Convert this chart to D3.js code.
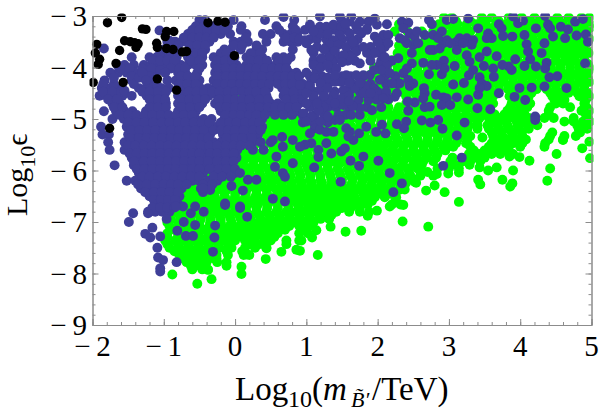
<!DOCTYPE html>
<html><head><meta charset="utf-8">
<script src="https://cdn.jsdelivr.net/npm/d3@7"></script>
<style>html,body{margin:0;background:#fff}svg{display:block}text{font-family:"Liberation Serif",serif;fill:#000}</style>
</head><body><svg id="c" width="600" height="413"></svg>
<script>
const xTicks=[-2,-1,0,1,2,3,4,5];
const yTicks=[-3,-4,-5,-6,-7,-8,-9];
const black=[[-1.79,-3.13],[-1.59,-3.03],[-1.3,-3.25],[-1.25,-3.26],[-.96,-3.3],[-.86,-3.3],[-.98,-3.4],[-.38,-3.13],[-.24,-3.1],[-.14,-3.12],[-1.94,-3.55],[-1.96,-3.72],[-1.9,-3.84],[-1.92,-3.94],[-1.67,-3.92],[-1.62,-3.67],[-1.55,-3.48],[-1.47,-3.5],[-1.41,-3.52],[-1.36,-3.54],[-1.39,-3.61],[-1.1,-3.53],[-1.09,-3.61],[-.96,-3.63],[-.87,-3.65],[-.74,-3.7],[-.68,-3.69],[-.01,-3.77],[-1.09,-4.22],[-1.99,-4.29],[-1.57,-4.29],[-.82,-4.44],[-1.76,-5.18]];
// blue scan points grouped by log-epsilon row: [y,[x...]]
const blueRows=[
[-3.08,[-.5,-.42,-.02,.42,.83]],
[-3.2,[-.55,-.44,-.33,-.22,-.1,.09,.58,.81]],
[-3.35,[-.66,-.55,-.45,-.34,-.2,-.07,.16,.39,.5,.68,.78,.87]],
[-3.5,[-.95,-.84,-.75,-.68,-.58,-.47,-.36,-.02,.08,.18,.44,.68,.78,.88]],
[-3.65,[-1,-.85,-.62,-.52,-.42,-.15,-.06,.08,.3,.38,.81]],
[-3.8,[-1.45,-1.2,-1.1,-.99,-.9,-.82,-.66,-.55,-.46,-.3,-.2,-.1,-.01,.16,.27,.38,.58,.68,.78]],
[-3.95,[-1.65,-1.55,-1.42,-1.28,-1.18,-1.07,-.96,-.87,-.76,-.66,-.55,-.46,-.28,-.18,-.08,.02,.16,.27,.37,.47,.57,.69]],
[-4.1,[-1.64,-1.52,-1.4,-1.25,-1.13,-.8,-.7,-.53,-.28,-.17,-.07,.04,.12,.23,.34,.44,.55,.66,.76,.86]],
[-4.25,[-1.83,-1.45,-1.17,-.83,-.72,-.62,-.5,-.3,-.2,-.09,.02,.12,.22,.33,.43,.53,.64,.74,.85]],
[-4.4,[-1.87,-1.75,-1.65,-1.35,-1.25,-1.14,-1.03,-.93,-.8,-.7,-.6,-.49,-.38,-.27,-.17,-.06,.05,.15,.26,.37,.47,.66,.77,.88]],
[-4.55,[-1.9,-1.8,-1.68,-1.58,-1.24,-1.12,-1.01,-.8,-.7,-.59,-.48,-.37,-.25,-.13,-.03,.12,.22,.32,.44,.68,.78,.88]],
[-4.7,[-1.72,-1.62,-1.15,-1.03,-.97,-.8,-.69,-.58,-.46,-.28,-.18,-.06,.06,.16,.28,.4,.5,.6,.7,.8,.9]],
[-4.85,[-1.84,-1.67,-1.55,-1.44,-1.25,-1.13,-1,-.8,-.68,-.55,-.2,-.08,.03,.14,.25,.36,.5,.62,.74,.86]],
[-5,[-1.72,-1.56,-1.44,-1.33,-1.22,-1.1,-.98,-.87,-.76,-.65,-.55,-.44,-.33,-.15,-.03,.08,.2,.3,.38]],
[-5.15,[-1.88,-1.52,-1.4,-1.3,-1.18,-1.07,-.96,-.85,-.74,-.62,-.5,-.4,-.25,-.15,-.04,.07,.2,.3,.38]],
[-5.3,[-1.86,-1.77,-1.5,-1.38,-1.27,-1.16,-1.05,-.94,-.83,-.72,-.6,-.48,-.35,-.17,-.06,.04,.2,.32]],
[-5.45,[-1.78,-1.55,-1.44,-1.33,-1.22,-1.11,-1,-.88,-.77,-.66,-.54,-.43,-.3,-.2,-.08,.03,.14,.25,.36,.5]],
[-5.6,[-1.76,-1.55,-1.45,-1.34,-1.22,-1.1,-.98,-.87,-.76,-.65,-.53,-.42,-.3,-.19,-.07,.03,.25,.4]],
[-5.75,[-1.45,-1.33,-1.22,-1.11,-1,-.89,-.78,-.66,-.55,-.45,-.3,-.2,-.08,.02]],
[-5.9,[-1.69,-1.42,-1.31,-1.2,-1.09,-.98,-.87,-.76,-.65,-.54,-.43,-.3,-.18,-.05]],
[-6.05,[-1.35,-1.24,-1.12,-1,-.89,-.78,-.66,-.56,-.45,-.25,-.12,0]],
[-6.2,[-1.52,-1.4,-1.28,-1.16,-1.05,-.94,-.83,-.72,-.6,-.5,-.38,-.25]],
[-6.35,[-1.32,-1.2,-1.08,-.97,-.86,-.75,-.48,-.35]],
[-6.5,[-1.2,-1.09,-.98,-.87,-.78]],
[-6.65,[-1.12,-1,-.9,-.8]],
[-6.8,[-1.22,-1.12,-1.02,-.92]],
[-3.27,[-.6,-.5,-.39,-.27,-.15,.08,.62,.85,.98,1.12,1.25,1.4,1.55,1.72,1.85]],
[-3.42,[-.72,-.6,-.5,-.4,-.3,.15,.72,.83]],
[-3.45,[.9,1.05,1.15,1.28,1.5,1.62,1.72,2.1]],
[-3.57,[-.92,-.8,-.64,-.53,-.42,-.02,.1,.3]],
[-3.6,[1.15,1.28,1.68,1.9,2.1]],
[-3.72,[-1.05,-.92,-.56,-.46,-.2,-.12,.22,.35,1.1,1.35,1.58,1.85,2.05]],
[-3.87,[-1.15,-1.05,-.95,-.85,-.62,-.5,-.25,-.14,-.04,.22,.33,.45,.62,.73,1.1,1.2,1.38,1.58,1.68,1.9,2.05,2.2]],
[-4.02,[-1.6,-1.48,-1.3,-1.17,-.9,-.78,-.7,-.5,-.24,-.13,-.02,.08,.2,.3,.42,.52,.62,.72]],
[-4.17,[-1.45,-1.2,-.76,-.66,-.56,-.25,-.13,-.03,.08,.18,.28,.38,.5,.6,.7,.8,.9,1.05,1.22,1.5,1.62,1.8,2.1,2.25]],
[-4.32,[-1.85,-1.7,-1.42,-1.2,-1.1,-.78,-.67,-.55,-.25,-.14,-.04,.07,.17,.28,.38,.48,.6,.7,.8,.95,1.05,1.2,1.3,1.65,1.78,1.9,2.12,2.28]],
[-4.47,[-1.85,-1.72,-1.6,-1.3,-1.2,-1.08,-.97,-.75,-.65,-.54,-.43,-.32,-.22,-.1,0,.1,.2,.3,.42,.7,.82,.95,1.1,1.4,1.6,1.75,2,2.12]],
[-4.62,[-1.78,-1.66,-1.2,-1.08,-.98,-.75,-.64,-.53,-.42,-.22,-.1,0,.1,.2,.34,.46,.72,.84,.95,1.1,1.22,1.42,1.98,2.15]],
[-4.77,[-1.7,-1.58,-1.2,-1.08,-.97,-.75,-.63,-.5,-.22,-.12,0,.1,.22,.34,.46,.56,.66,.76,.86,1.05,1.3,1.42,1.6,1.85,2.05]],
[-4.92,[-1.62,-1.5,-1.38,-1.27,-1.16,-1.04,-.93,-.82,-.72,-.6,-.14,-.02,.08,.2,.3,.42,.56,.68,.8,.95,1.12,1.25,1.55,1.75]],
[-5.07,[-1.5,-1.38,-1.27,-1.15,-1.03,-.92,-.8,-.7,-.58,-.47,-.36,-.2,-.08,.02,.14,.25,.34,.95,1.1,1.3]],
[-5.22,[-1.46,-1.34,-1.23,-1.12,-1,-.9,-.78,-.67,-.56,-.44,-.3,-.2,-.1,0,.12,.25,.36]],
[-5.37,[-1.47,-1.35,-1.24,-1.13,-1.02,-.9,-.8,-.68,-.57,-.46,-.38,-.12,0,.1,.24]],
[-5.52,[-1.5,-1.4,-1.28,-1.17,-1.05,-.94,-.82,-.7,-.6,-.48,-.36,-.25,-.13,-.02,.08,.2]],
[-5.67,[-1.48,-1.38,-1.27,-1.16,-1.05,-.93,-.82,-.71,-.6,-.5,-.35,-.25,-.13,-.02]],
[-5.82,[-1.42,-1.28,-1.17,-1.05,-.94,-.83,-.71,-.6,-.5,-.38,-.25,-.13,-.02]],
[-5.97,[-1.38,-1.27,-1.16,-1.05,-.94,-.83,-.72,-.6,-.5,-.36,-.23,-.12,0]],
[-6.12,[-1.3,-1.2,-1.08,-.97,-.85,-.74,-.62,-.5,-.3,-.18,-.06]],
[-6.27,[-1.36,-1.24,-1.12,-1,-.9,-.8,-.68,-.45,-.32]],
[-6.42,[-1.26,-1.14,-1.03,-.92,-.8,-.45]],
[-6.57,[-1.14,-1.04,-.94,-.84]],
[-6.72,[-1.16,-1.05,-.95,-.85]]];
// individually resolved blue points
const bluePoints=[[-1.84,-3.63],[-1.06,-3.28],[-.92,-3.48],[-1.75,-4.1],[-1.7,-4.2],[-1.55,-4.45],[-1.45,-4.55],[-1.35,-4.2],[-1.3,-4.1],[-1.25,-4.25],[-.95,-4.25],[-1.05,-4.05],[-.98,-4.1],[.68,-3.02],[1.19,-3.01],[1.47,-3.01],[1.63,-3.01],[1.96,-3.05],[2.13,-3.16],[1.99,-3.17],[1.87,-3.11],[1.75,-3.11],[1.61,-3.11],[1.49,-3.08],[2.34,-3.11],[2.43,-3.13],[2.72,-3.08],[2.76,-3.16],[2.97,-3.08],[3.06,-3.06],[3.27,-3.05],[3.9,-3.01],[4.35,-3],[4.88,-3.06],[4.77,-3.11],[3.97,-3.14],[4.04,-3.09],[3.7,-3.16],[3.74,-3.24],[3.76,-3.39],[3.89,-3.4],[4.06,-3.37],[4.22,-3.24],[4.39,-3.17],[4.42,-3.24],[4.46,-3.4],[4.57,-3.21],[4.67,-3.26],[4.63,-3.43],[4.79,-3.38],[4.92,-3.36],[4.95,-3.5],[4.91,-3.92],[4.34,-3.53],[4.09,-3.55],[4.11,-3.69],[4.3,-3.72],[4.14,-3.84],[4.37,-3.91],[4.35,-4.02],[4.22,-3.98],[4.06,-3.97],[3.93,-3.84],[3.88,-4.05],[3.84,-3.98],[3.75,-3.95],[3.62,-4.02],[3.63,-4.18],[3.49,-3.97],[3.67,-3.78],[3.53,-3.69],[3.43,-3.8],[3.25,-3.76],[3.29,-3.89],[3.34,-4.05],[3.43,-4.19],[3.28,-4.15],[3.21,-4.3],[3.46,-4.31],[3.53,-4.36],[3.41,-4.53],[3.43,-4.4],[3.7,-4.5],[3.27,-4.62],[3.11,-4.58],[3.06,-4.33],[3.08,-3.97],[2.93,-3.87],[2.9,-4.13],[2.94,-4.02],[2.83,-3.95],[2.72,-4.13],[2.64,-3.91],[2.76,-3.95],[2.65,-4.4],[2.66,-4.5],[2.64,-4.6],[2.52,-4.68],[2.42,-4.66],[2.43,-4.84],[2.66,-4.77],[2.73,-4.76],[2.82,-4.53],[2.92,-4.58],[2.97,-4.6],[2.9,-4.73],[3.02,-4.73],[3.4,-4.79],[3.58,-4.81],[3.99,-4.4],[4.16,-4.39],[4.34,-4.37],[4.65,-4.4],[3.92,-4.57],[4.07,-4.63],[4.21,-4.95],[4.21,-5.02],[4.41,-4.19],[4.52,-4.17],[3.22,-5.07],[3.11,-5.32],[2.91,-5.19],[2.85,-5.02],[2.74,-5.07],[2.62,-5.03],[2.4,-5.05],[2.37,-5.18],[2.27,-5.1],[2.06,-5.11],[2.11,-5.28],[1.98,-5.25],[1.84,-5.15],[1.74,-5.28],[1.66,-5.41],[1.61,-5.25],[1.56,-5.18],[1.59,-5.34],[3.18,-5.75],[2.92,-5.91],[2.01,-5.81],[1.8,-5.73],[1.74,-5.91],[1.62,-5.81],[1.49,-5.63],[1.54,-5.57],[1.35,-5.67],[1.28,-5.47],[1.17,-5.6],[1.17,-5.74],[1.11,-5.94],[1.07,-5.47],[.98,-5.5],[.91,-5.54],[1.48,-6.22],[2.17,-6.05],[2.34,-6.25],[2.22,-6.42],
[.98,-3.47],[1.05,-3.17],[1.19,-3.21],[1.28,-3.21],[1.19,-3.34],[1.07,-3.66],[1,-3.53],[1.38,-3.17],[1.49,-3.21],[1.61,-3.34],[1.47,-3.37],[1.38,-3.47],[1.33,-3.56],[1.45,-3.56],[1.56,-3.6],[1.7,-3.69],[1.61,-3.79],[1.47,-3.79],[1.31,-3.79],[1.21,-3.82],[1.33,-4.02],[1.42,-4.02],[1.52,-3.76],[1.75,-3.92],[1.77,-3.34],[1.96,-3.4],[2.08,-3.37],[2.15,-3.37],[2.15,-3.53],[2.03,-3.63],[1.96,-3.72],[2.03,-3.95],[2.13,-3.95],[2.17,-4.11],[2.03,-4.24],[1.89,-4.15],[1.8,-4.15],[1.7,-4.15],[1.56,-4.15],[1.49,-4.28],[1.4,-4.28],[1.14,-4.05],[1.12,-4.21],[1.05,-4.37],[.91,-4.34],[1.19,-4.44],[1.38,-4.53],[1.31,-4.63],[1.24,-4.76],[1.17,-4.83],[1,-4.7],[.96,-4.89],[1.07,-4.95],[1.45,-4.92],[1.52,-4.73],[1.63,-4.92],[1.73,-4.63],[1.87,-4.63],[1.92,-4.83],[1.75,-4.79],[2.08,-4.6],[2.24,-4.57],[2.27,-4.5],[1.4,-5.02],[1.47,-5.02],[1.12,-5.18],[1.05,-5.28],[1.38,-5.25],[1.19,-5.21],[1.28,-5.25],[1.87,-4.37],[1.68,-4.4],[1.52,-4.44],
[1.1,-3.3],[1.3,-3.35],[1.55,-3.15],[1.7,-3.2],[1.85,-3.25],[1.25,-3.65],[1.4,-3.68],[1.65,-3.5],[1.8,-3.6],[1.1,-3.95],[1.2,-4],[1,-4.1],[1.3,-4.2],[1.2,-4.3],[1.4,-4.15],[1.6,-4.3],[1.75,-4.3],[1.95,-4.4],[2.05,-4.05],[1.95,-4.05],[1.3,-4.4],[1.1,-4.55],[1.25,-4.55],[1.5,-4.6],[1.6,-4.55],[1.4,-4.7],[1.8,-4.5],[1.9,-4.5],[1,-4.5],[1.15,-4.7],[1.65,-4.75],[1.6,-4.65],[1,-5.05],[1.2,-5.05],[1.3,-4.95],[2.1,-3.8],[2,-3.5],[1.3,-3.95],[1.5,-3.9],
[2.45,-3.34],[2.52,-3.4],[2.5,-3.56],[2.57,-3.53],[2.48,-3.72],[2.41,-3.53],[2.78,-3.37],[2.9,-3.3],[2.97,-3.47],[2.92,-3.53],[3.11,-3.5],[3.15,-3.43],[3.25,-3.43],[3.34,-3.47],[3.32,-3.56],[3.11,-3.66],[2.78,-3.66],[2.73,-3.66],[2.87,-3.63],[2.31,-3.43],[2.29,-3.82],[2.48,-3.92],[2.41,-4.02],[2.36,-4.11],[2.43,-4.24],[2.31,-4.31],[2.2,-4.31],[2.5,-4.31],[2.45,-4.36],[3.41,-3.24],[3.55,-3.34],[3.6,-3.43],[3.53,-3.43],[2.36,-3.24],[2.55,-3.3],[2.66,-3.37],[3.02,-3.53],[3.2,-3.53],[2.85,-3.43],[2.38,-3.47],
[-.81,-7.17],[-.72,-7],[-.69,-7.27],[-.59,-7.27],[-.56,-7.06],[-.28,-7.07],[-.29,-7.3],[-.31,-7.58],[-.44,-6.8],[-.62,-6.83],[-.56,-6.7],[-.73,-6.7],[-.83,-6.7],[-.14,-6.67],[.07,-6.73],[.17,-6.9],[-.96,-6.94],[-1.22,-6.83],[-1.43,-6.83],[-1.49,-7],[-1.16,-7.11],[-1.26,-7.23],[-1.19,-7.3],[-1.05,-7.28],[-1.09,-7.5],[-1.08,-7.69],[-1.01,-7.74],[-1.05,-7.9],[-1.05,-7.96],[-.82,-7.78],
[.07,-6.05],[.18,-6.18],[.3,-6.18],[-.05,-6.3],[-.35,-6.38],[-.45,-6.35],[.11,-6.39],[.53,-6.55],[.7,-6.6],[.07,-6.7],[-.14,-6.64],[.67,-6.05],[.7,-6.12],[.81,-5.86],[.58,-5.73],[.56,-5.93],[.67,-5.54],[.81,-5.41],[.53,-5.41],[.66,-5.35]];
// green scan points grouped by log-epsilon row: [y,[x...]]
const greenRows=[
[-3.03,[2.93,3.04,3.46,3.6,3.84,4.02,4.2,4.52,4.68,4.86,4.97]],
[-3.16,[2.3,2.86,2.98,3.12,3.25,3.38,3.52,3.66,3.8,3.93,4.06,4.2,4.34,4.47,4.6,4.73,4.87,4.98]],
[-3.3,[2.24,2.42,2.62,2.78,2.92,3.05,3.18,3.3,3.44,3.58,3.72,3.86,3.98,4.12,4.26,4.4,4.53,4.66,4.8,4.93]],
[-3.44,[2.5,2.7,2.86,3,3.13,3.27,3.4,3.52,3.65,3.78,3.92,4.05,4.18,4.32,4.45,4.58,4.72,4.85,4.97]],
[-3.58,[2.3,2.6,2.75,2.9,3.04,3.17,3.3,3.44,3.57,3.7,3.83,3.97,4.1,4.23,4.37,4.5,4.63,4.76,4.9]],
[-3.72,[2.28,2.42,2.56,2.7,2.84,2.97,3.1,3.24,3.37,3.5,3.63,3.77,3.9,4.03,4.16,4.3,4.43,4.56,4.7,4.83,4.96]],
[-3.86,[2.2,2.34,2.48,2.62,2.76,2.9,3.03,3.16,3.3,3.43,3.56,3.7,3.83,3.96,4.1,4.23,4.36,4.5,4.63,4.76,4.9]],
[-4,[1.95,2.1,2.28,2.42,2.56,2.7,2.83,2.96,3.1,3.23,3.36,3.5,3.63,3.76,3.9,4.03,4.17,4.3,4.43,4.56,4.7,4.83,4.97]],
[-4.14,[1.9,2.04,2.18,2.34,2.48,2.62,2.76,2.9,3.03,3.16,3.3,3.43,3.57,3.7,3.83,3.97,4.1,4.23,4.37,4.5,4.63,4.77,4.9]],
[-4.28,[1.8,1.95,2.1,2.25,2.4,2.55,2.68,2.82,2.96,3.1,3.23,3.36,3.5,3.63,3.76,3.9,4.03,4.17,4.3,4.43,4.57,4.7,4.83,4.97]],
[-4.42,[1.72,1.88,2.02,2.16,2.3,2.46,2.6,2.74,2.88,3.02,3.15,3.28,3.42,3.56,3.7,3.83,3.96,4.1,4.23,4.37,4.5,4.63,4.77,4.9]],
[-4.56,[1.6,1.76,1.9,2.05,2.2,2.4,2.55,2.68,2.82,2.95,3.1,3.23,3.36,3.5,3.62,3.85,3.98,4.12,4.45,4.57,4.83,4.97]],
[-4.7,[1.5,1.66,1.82,1.97,2.12,2.4,2.54,2.7,2.84,2.98,3.1,3.25,3.38,3.5,3.62,3.88,4,4.14,4.5,4.6,4.9]],
[-4.84,[.42,.55,.68,.8,1.3,1.42,1.56,1.7,1.85,2,2.14,2.28,2.42,2.56,2.7,2.84,2.97,3.1,3.24,3.37,3.5,3.82,3.96,4.4,4.86,4.97]],
[-4.98,[.3,.44,.58,.72,.85,1,1.5,1.64,1.78,1.92,2.06,2.2,2.34,2.48,2.62,2.76,2.9,3.04,3.17,3.3,3.43,3.56,3.7,3.85,3.98,4.12,4.34,4.47,4.75,4.95]],
[-5.12,[.22,.36,.5,.64,.78,.92,1.06,1.2,1.34,1.48,1.62,1.76,1.9,2.04,2.18,2.32,2.46,2.6,2.74,2.88,3,3.14,3.28,3.4,3.54,3.68,3.82,3.96,4.1,4.24,4.8,4.93]],
[-5.26,[.14,.28,.42,.56,.7,.84,.98,1.12,1.26,1.4,1.54,1.68,1.82,1.96,2.1,2.24,2.38,2.52,2.66,2.8,2.94,3.08,3.22,3.6,3.74,3.88,4.02,4.45,4.84]],
[-5.4,[.04,.18,.32,.46,.6,.74,.88,1.02,1.16,1.3,1.44,1.58,1.72,1.86,2,2.14,2.28,2.42,2.56,2.7,2.84,2.98,3.12,3.26,3.68,3.82,3.96,4.08,4.4,4.6]],
[-5.54,[-.02,.12,.26,.4,.54,.68,.82,.96,1.1,1.24,1.38,1.52,1.66,1.8,1.94,2.08,2.22,2.36,2.5,2.64,2.78,2.92,3.06,3.3,3.56,3.7,3.84,4,4.34]],
[-5.68,[-.1,.04,.18,.32,.46,.6,.74,.88,1.02,1.16,1.3,1.44,1.58,1.72,1.86,2,2.14,2.28,2.42,2.56,2.7,2.84,3.28,3.42,3.6,3.72,3.9]],
[-5.82,[-.16,-.02,.12,.26,.4,.54,.68,.82,.96,1.1,1.24,1.38,1.52,1.66,1.8,1.94,2.08,2.22,2.36,2.5,2.64,2.78,3.02,3.2,3.3,3.44]],
[-5.96,[-.24,-.1,.04,.18,.32,.46,.6,.74,.88,1.02,1.16,1.3,1.44,1.58,1.72,1.86,2,2.14,2.28,2.42,2.56,2.84,3,3.14]],
[-6.1,[-.48,-.34,-.2,-.06,.08,.22,.36,.5,.64,.78,.92,1.06,1.2,1.34,1.48,1.62,1.76,1.9,2.04,2.18,2.32,2.46,2.6,2.78]],
[-6.24,[-.6,-.46,-.32,-.18,-.04,.1,.24,.38,.52,.66,.8,.94,1.08,1.22,1.36,1.5,1.64,1.78,1.92,2.06,2.2,2.4,2.54]],
[-6.38,[-.68,-.54,-.4,-.26,-.12,.02,.16,.3,.44,.58,.72,.86,1,1.14,1.28,1.42,1.56,1.7,1.84,1.98,2.12,2.3]],
[-6.52,[-.84,-.7,-.56,-.42,-.28,-.14,0,.14,.28,.42,.56,.7,.84,.98,1.12,1.26,1.4,1.54,1.68,1.82,1.96,2.1,2.26]],
[-6.66,[-.94,-.8,-.66,-.52,-.38,-.24,-.1,.04,.18,.32,.46,.6,.74,.88,1.02,1.16,1.3,1.44,1.58,1.72,1.86,2.2,2.32]],
[-6.8,[-.95,-.82,-.68,-.54,-.4,-.26,-.12,.02,.16,.3,.44,.58,.72,.86,1,1.14,1.28,1.42,1.6,1.75,1.88]],
[-6.94,[-.9,-.76,-.62,-.48,-.34,-.2,-.06,.08,.22,.36,.5,.64,.78,.92,1.06,1.2,1.32]],
[-7.08,[-.92,-.78,-.64,-.5,-.36,-.22,-.08,.06,.2,.34,.48,.62,.76,.9,1.04]],
[-7.22,[-.95,-.8,-.66,-.52,-.38,-.24,-.1,.04,.18,.32,.46,.6,.9,1.02]],
[-7.36,[-.98,-.84,-.7,-.56,-.42,-.28,-.14,0,.14,.28,.5,.72,.9]],
[-7.5,[-.92,-.78,-.64,-.5,-.36,-.22,-.05,.14,.28,.44]],
[-7.64,[-.78,-.64,-.5,-.36,-.26,-.1,.12,.2]],
[-7.78,[-.68,-.54,-.4,-.25,-.12]],
[-7.92,[-.6,-.46,-.38]],
[-3.1,[3.1,3.3,3.5,3.7,3.9,4.1,4.27,4.42,4.6,4.78,4.92]],
[-3.23,[2.9,3.1,3.25,3.45,3.62,3.78,3.92,4.08,4.22,4.38,4.55,4.7,4.85,4.98]],
[-3.37,[2.82,2.95,3.1,3.25,3.45,3.6,3.74,3.88,4,4.15,4.3,4.42,4.55,4.68,4.8,4.92]],
[-3.51,[2.65,2.8,2.96,3.1,3.22,3.36,3.5,3.63,3.75,3.88,4.02,4.15,4.28,4.42,4.55,4.68,4.8,4.94]],
[-3.65,[2.35,2.5,2.66,2.8,2.92,3.06,3.2,3.32,3.46,3.6,3.74,3.86,4,4.14,4.27,4.4,4.53,4.66,4.8,4.93]],
[-3.79,[2.35,2.5,2.63,2.77,2.9,3.03,3.16,3.3,3.44,3.57,3.7,3.83,3.96,4.1,4.23,4.36,4.5,4.64,4.77,4.9]],
[-3.93,[2.15,2.3,2.42,2.55,2.7,2.83,2.96,3.1,3.24,3.37,3.5,3.64,3.76,3.9,4.04,4.16,4.3,4.43,4.57,4.7,4.83,4.95]],
[-4.07,[2,2.14,2.28,2.42,2.55,2.7,2.83,2.96,3.1,3.24,3.37,3.5,3.64,3.76,3.9,4.04,4.16,4.3,4.44,4.57,4.7,4.84,4.96]],
[-4.21,[1.85,2,2.12,2.26,2.4,2.55,2.68,2.82,2.96,3.1,3.23,3.36,3.5,3.64,3.77,3.9,4.03,4.16,4.3,4.43,4.57,4.7,4.83,4.95]],
[-4.35,[1.78,1.92,2.06,2.2,2.34,2.48,2.62,2.76,2.9,3.04,3.17,3.3,3.44,3.57,3.7,3.84,3.97,4.1,4.24,4.37,4.5,4.64,4.77,4.9]],
[-4.49,[1.66,1.8,1.95,2.1,2.24,2.38,2.52,2.66,2.8,2.93,3.06,3.2,3.34,3.47,3.6,3.9,4.03,4.16,4.42,4.55,4.68,4.8,4.94]],
[-4.63,[1.56,1.7,1.85,2,2.15,2.42,2.6,2.74,2.88,3,3.14,3.3,3.44,3.56,3.92,4.05,4.48,4.62,4.92]],
[-4.77,[1.4,1.55,1.7,1.85,2,2.15,2.3,2.46,2.6,2.76,2.9,3.04,3.18,3.3,3.45,3.56,3.86,4,4.1,4.42,4.7,4.93]],
[-4.91,[.35,.5,.63,.76,.9,1.35,1.5,1.65,1.8,1.95,2.1,2.25,2.4,2.54,2.68,2.82,2.96,3.1,3.24,3.38,3.5,3.64,3.78,3.92,4.06,4.4,4.92]],
[-5.05,[.3,.55,.7,.85,1,1.15,1.3,1.45,1.6,1.75,1.9,2.05,2.2,2.35,2.5,2.65,2.8,2.95,3.1,3.25,3.4,3.6,3.7,3.8,3.95,4.05,4.15,4.62,4.75,4.88,4.98]],
[-5.19,[.18,.32,.46,.6,.74,.88,1.02,1.16,1.3,1.44,1.58,1.72,1.86,2,2.14,2.28,2.42,2.56,2.7,2.84,2.98,3.12,3.26,3.4,3.56,3.7,3.84,3.98,4.12,4.82,4.94]],
[-5.33,[.08,.2,.3,.45,.6,.75,.9,1.05,1.2,1.35,1.5,1.65,1.8,1.95,2.1,2.25,2.4,2.55,2.7,2.85,3,3.15,3.3,3.62,3.75,3.9,4.03,4.42,4.62,4.78]],
[-5.47,[.02,.15,.3,.44,.58,.72,.86,1,1.14,1.28,1.42,1.56,1.7,1.84,1.98,2.12,2.26,2.4,2.54,2.68,2.82,2.96,3.1,3.24,3.6,3.74,3.9,4.03,4.35]],
[-5.61,[-.05,.1,.25,.4,.55,.7,.85,1,1.15,1.3,1.45,1.6,1.75,1.9,2.05,2.2,2.35,2.5,2.65,2.8,2.95,3.35,3.5,3.65,3.8]],
[-5.75,[-.12,.02,.16,.3,.44,.58,.72,.86,1,1.14,1.28,1.42,1.56,1.7,1.84,1.98,2.12,2.26,2.4,2.54,2.68,2.82,3.05,3.36,3.5]],
[-5.89,[-.2,-.05,.1,.25,.4,.55,.7,.85,1,1.15,1.3,1.45,1.6,1.75,1.9,2.05,2.2,2.35,2.5,2.62,3.1]],
[-6.03,[-.36,-.22,-.08,.06,.2,.34,.48,.62,.76,.9,1.04,1.18,1.32,1.46,1.6,1.74,1.88,2.02,2.16,2.3,2.44,2.6,2.7]],
[-6.17,[-.55,-.42,-.3,-.15,0,.15,.3,.45,.6,.75,.9,1.05,1.2,1.35,1.5,1.65,1.8,1.95,2.1,2.25,2.4,2.5]],
[-6.31,[-.62,-.48,-.34,-.2,-.06,.08,.22,.36,.5,.64,.78,.92,1.06,1.2,1.34,1.48,1.62,1.76,1.9,2.04,2.18,2.32]],
[-6.45,[-.78,-.6,-.45,-.3,-.15,0,.15,.3,.45,.6,.75,.9,1.05,1.2,1.35,1.5,1.65,1.8,1.92,2.05,2.18]],
[-6.59,[-.88,-.74,-.6,-.46,-.32,-.18,-.04,.1,.24,.38,.52,.66,.8,.94,1.08,1.22,1.36,1.5,1.64,1.78,1.92,2.25]],
[-6.73,[-.9,-.75,-.6,-.45,-.3,-.15,0,.15,.3,.45,.6,.75,.9,1.05,1.2,1.35,1.5,1.62,1.75]],
[-6.87,[-.92,-.78,-.64,-.5,-.36,-.22,-.08,.06,.2,.34,.48,.62,.76,.9,1.04,1.18,1.35]],
[-7.01,[-.95,-.8,-.65,-.5,-.35,-.2,-.05,.1,.25,.4,.55,.7,.85,1,1.1]],
[-7.15,[-.85,-.7,-.56,-.42,-.28,-.14,0,.14,.28,.42,.56,.7,.95]],
[-7.29,[-.95,-.8,-.65,-.5,-.35,-.2,-.05,.1,.25,.4,.55]],
[-7.43,[-.95,-.8,-.66,-.52,-.38,-.24,-.1,.2,.34,.42]],
[-7.57,[-.85,-.7,-.56,-.42,-.28,-.12,.1]],
[-7.71,[-.72,-.58,-.44,-.3]],
[-7.85,[-.62,-.5,-.42]]];
// individually resolved green points along the lower edge of the cloud
const greenPoints=[[4.98,-5.76],[4.87,-5.57],[4.97,-5.44],[4.6,-5.41],[4.51,-5.68],[4.42,-5.96],[4.38,-6.2],[4.13,-5.81],[3.9,-6],[3.89,-6.25],[3.86,-6.31],[3.75,-6.18],[3.67,-5.94],[3.55,-6],[3.43,-5.94],[3.41,-6.18],[3.44,-6.27],[3.14,-6.61],[3.14,-6.04],[2.99,-6.06],[2.94,-6.42],[2.8,-6.29],[2.68,-6.39],[3.99,-5.74],[3.85,-5.73],[3.47,-5.36],[2.83,-6.07],[2.52,-6.22],[3.29,-5.89],[2.38,-6.37],[2.36,-6.67],[1.99,-6.78],[2.35,-6.99],[2.71,-7.09],[1.77,-7.17],[1.55,-7.19],[1.34,-7.09],[1.16,-7.64],[1.08,-7.3],[.91,-7.56],[.93,-7.36],[1.14,-7.16],[1.86,-6.88],[1.31,-6.92],[1.47,-6.73],[2.17,-6.7],[-.53,-8.2],[-.33,-8.11],[-.88,-8.02],[.09,-8.01],[.09,-7.87],[.43,-7.72],[.65,-7.58],[-.12,-7.85],[-.38,-7.93],[.44,-7.51],[.72,-7.43],[.86,-7.54],[.28,-7.48],[.16,-7.63],[-.26,-7.71],[.04,-4.57]];

const expand=rows=>rows.flatMap(([y,xs])=>xs.map(x=>[x,y]));
const green=expand(greenRows).concat(greenPoints);
const blue=expand(blueRows).concat(bluePoints);

const svg=d3.select("#c");
const x=d3.scaleLinear().domain([-2,5]).range([92.5,591.5]);
const y=d3.scaleLinear().domain([-3,-9]).range([16,325]);
const [L,R]=x.range(),[T,B]=y.range();

svg.append("clipPath").attr("id","plot").append("rect")
  .attr("x",L-3).attr("y",T-2.5).attr("width",R-L+5).attr("height",B-T+5);
const dots=svg.append("g").attr("clip-path","url(#plot)");
[[green,"#00ff00",4.95],[blue,"#3f3f98",4.95],[black,"#000",4.7]].forEach(([pts,fill,r])=>{
  dots.append("g").attr("fill",fill).selectAll("circle").data(pts).join("circle")
    .attr("cx",d=>x(d[0])).attr("cy",d=>y(d[1])).attr("r",r);
});

const minorX=d3.range(-2,5.001,.2), minorY=d3.range(-9,-2.999,.2);
const frame="#8c8c8c";
const label=d=>d<0?"\u2212\u2009"+(-d):String(d);
function style(g){g.selectAll(".domain").attr("stroke",frame);g.selectAll("line").attr("stroke",frame);}
// inward tick marks on all four sides; d3 flips direction via the tick size sign
[[d3.axisBottom,x,minorX,xTicks,B],[d3.axisTop,x,minorX,xTicks,T]].forEach(([ax,s,mi,ma,pos])=>{
  svg.append("g").attr("transform",`translate(0,${pos})`).call(ax(s).tickValues(mi).tickSize(-3).tickFormat("")).call(style);
  svg.append("g").attr("transform",`translate(0,${pos})`).call(ax(s).tickValues(ma).tickSize(-6).tickFormat("")).call(style);
});
[[d3.axisLeft,y,minorY,yTicks,L],[d3.axisRight,y,minorY,yTicks,R]].forEach(([ax,s,mi,ma,pos])=>{
  svg.append("g").attr("transform",`translate(${pos},0)`).call(ax(s).tickValues(mi).tickSize(-3).tickFormat("")).call(style);
  svg.append("g").attr("transform",`translate(${pos},0)`).call(ax(s).tickValues(ma).tickSize(-6).tickFormat("")).call(style);
});

svg.append("g").selectAll("text").data(xTicks).join("text")
  .attr("x",d=>x(d)).attr("y",356).attr("text-anchor","middle").attr("font-size",29).text(label);
svg.append("g").selectAll("text").data(yTicks).join("text")
  .attr("x",87).attr("y",d=>y(d)+10).attr("text-anchor","end").attr("font-size",29).text(label);

// x axis title, pieces placed along the baseline
const xt=svg.append("text").attr("y",400).attr("font-size",33);
xt.append("tspan").attr("x",235).text("Log");
xt.append("tspan").attr("x",288).attr("font-size",24).attr("dy",7).text("10");
xt.append("tspan").attr("x",312).attr("dy",-7).text("(");
xt.append("tspan").attr("x",323).attr("font-style","italic").text("m");
xt.append("tspan").attr("x",351).attr("font-size",22).attr("font-style","italic").attr("dy",7).text("B\u0303\u2032");
xt.append("tspan").attr("x",372).attr("dy",-7).text("/TeV)");

// y axis title
const yt=svg.append("text").attr("transform","translate(26.5,216) rotate(-90)").attr("font-size",30);
yt.append("tspan").text("Log");
yt.append("tspan").attr("font-size",22).attr("dy",8).text("10");
yt.append("tspan").attr("dy",-8).text("\u03f5");
</script></body></html>
